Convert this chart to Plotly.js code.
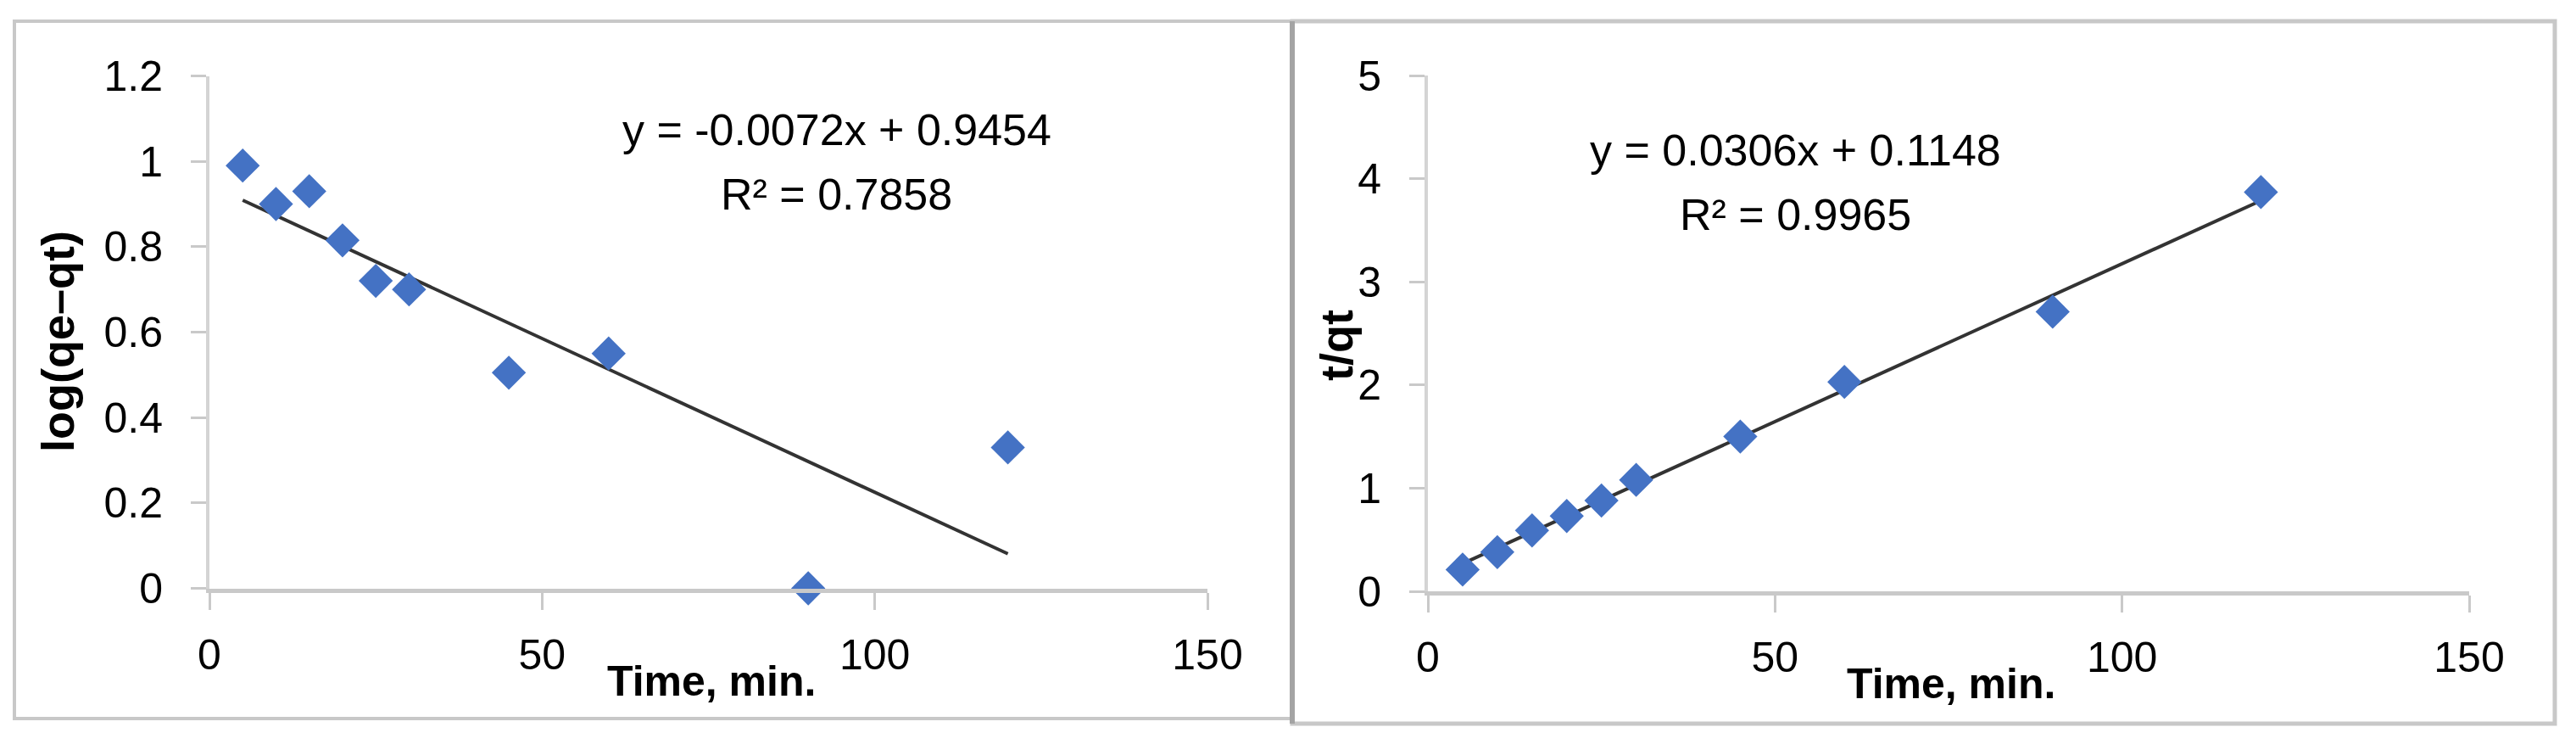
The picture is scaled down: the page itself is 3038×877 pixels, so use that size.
<!DOCTYPE html>
<html>
<head>
<meta charset="utf-8">
<script src="https://cdn.plot.ly/plotly-3.0.1.min.js"></script>
<style>
  html, body { margin: 0; padding: 0; background: #ffffff; }
  #chart { width: 3038px; height: 877px; }
</style>
</head>
<body>
<div id="chart"></div>
<script>
// ---- Data ----
const timeMin = [5, 10, 15, 20, 25, 30, 45, 60, 90, 120];
const logQeQt = [0.99, 0.90, 0.93, 0.815, 0.72, 0.70, 0.505, 0.55, 0.0, 0.33];
const tOverQt = [0.21, 0.38, 0.59, 0.73, 0.88, 1.08, 1.50, 2.03, 2.71, 3.87];

// Trendline end points (as drawn in the reference)
const trend1X = [5, 120];
const trend1Y = [0.909, 0.081];
const trend2X = [5, 120];
const trend2Y = [0.268, 3.787];

// Labels
const eq1Text = ["y = -0.0072x + 0.9454", "R² = 0.7858"];
const eq2Text = ["y = 0.0306x + 0.1148", "R² = 0.9965"];
const xTitle = "Time, min.";
const y1Title = "log(qe–qt)";
const y2Title = "t/qt";

// ---- Styling ----
const W = 3038, H = 877;
const px = v => v / W;
const py = v => (H - v) / H;

const baseFamily = "'Liberation Sans', Arial, sans-serif";
const tickFont = { family: baseFamily, size: 50, color: "#000000" };
const titleFont = { family: baseFamily, size: 50, color: "#000000", weight: 700 };
const yTitleFont = { family: baseFamily, size: 54, color: "#000000", weight: 700 };
const eqFont = { family: baseFamily, size: 52, color: "#000000" };
const markerColor = "#4472C4";
const axisGrey = "#c9c9c9";

function xAxis(domain, anchor) {
  return {
    domain: domain, anchor: anchor,
    range: [0, 150], dtick: 50, tick0: 0,
    showgrid: false, zeroline: false,
    showline: true, linecolor: axisGrey, linewidth: 5,
    ticks: "outside", ticklen: 20, tickwidth: 3, tickcolor: axisGrey,
    tickfont: tickFont, ticklabelstandoff: 10,
    automargin: false, fixedrange: true
  };
}
function yAxis(domain, anchor, range, dtick) {
  return {
    domain: domain, anchor: anchor,
    range: range, dtick: dtick, tick0: 0,
    showgrid: false, zeroline: false,
    showline: true, linecolor: "#d4d4d4", linewidth: 4,
    ticks: "outside", ticklen: 18, tickwidth: 3, tickcolor: axisGrey,
    tickfont: tickFont, ticklabelstandoff: 23,
    automargin: false, fixedrange: true
  };
}

const traces = [
  {
    x: trend1X, y: trend1Y, xaxis: "x", yaxis: "y",
    mode: "lines", line: { color: "#333333", width: 4 },
    hoverinfo: "skip", showlegend: false
  },
  {
    x: timeMin, y: logQeQt, xaxis: "x", yaxis: "y",
    mode: "markers", cliponaxis: false,
    marker: { symbol: "diamond", size: 31, color: markerColor, line: { width: 0 } },
    showlegend: false
  },
  {
    x: trend2X, y: trend2Y, xaxis: "x2", yaxis: "y2",
    mode: "lines", line: { color: "#333333", width: 4 },
    hoverinfo: "skip", showlegend: false
  },
  {
    x: timeMin, y: tOverQt, xaxis: "x2", yaxis: "y2",
    mode: "markers", cliponaxis: false,
    marker: { symbol: "diamond", size: 31, color: markerColor, line: { width: 0 } },
    showlegend: false
  }
];

function textAnn(text, xc, yc, font, angle) {
  return {
    text: text, xref: "paper", yref: "paper",
    x: px(xc), y: py(yc), xanchor: "center", yanchor: "middle",
    showarrow: false, font: font, textangle: angle || 0
  };
}

const layout = {
  width: W, height: H,
  margin: { l: 0, r: 0, t: 0, b: 0 },
  paper_bgcolor: "#ffffff", plot_bgcolor: "rgba(0,0,0,0)",
  showlegend: false,
  xaxis: xAxis([px(247), px(1424)], "y"),
  yaxis: yAxis([py(693.5), py(89.5)], "x", [0, 1.2], 0.2),
  xaxis2: xAxis([px(1684), px(2912)], "y2"),
  yaxis2: yAxis([py(697), py(89)], "x2", [0, 5], 1),
  annotations: [
    textAnn(eq1Text[0], 987, 153, eqFont),
    textAnn(eq1Text[1], 987, 229, eqFont),
    textAnn(eq2Text[0], 2117, 177, eqFont),
    textAnn(eq2Text[1], 2117, 253, eqFont),
    textAnn(xTitle, 839, 803, titleFont),
    textAnn(xTitle, 2301, 806, titleFont),
    textAnn(y1Title, 68, 403, yTitleFont, -90),
    textAnn(y2Title, 1576, 407, yTitleFont, -90)
  ],
  shapes: [
    { type: "rect", xref: "paper", yref: "paper", x0: px(17), x1: px(1524), y0: py(847), y1: py(25),
      line: { color: "#c8c8c8", width: 4 }, fillcolor: "rgba(0,0,0,0)", layer: "below" },
    { type: "rect", xref: "paper", yref: "paper", x0: px(1524), x1: px(3013), y0: py(853), y1: py(25),
      line: { color: "#c8c8c8", width: 5 }, fillcolor: "rgba(0,0,0,0)", layer: "below" },
    { type: "line", xref: "paper", yref: "paper", x0: px(1524), x1: px(1524), y0: py(853), y1: py(25),
      line: { color: "#a4a4a4", width: 6 }, layer: "below" }
  ]
};

Plotly.newPlot("chart", traces, layout, { staticPlot: true, displayModeBar: false });
</script>
</body>
</html>
